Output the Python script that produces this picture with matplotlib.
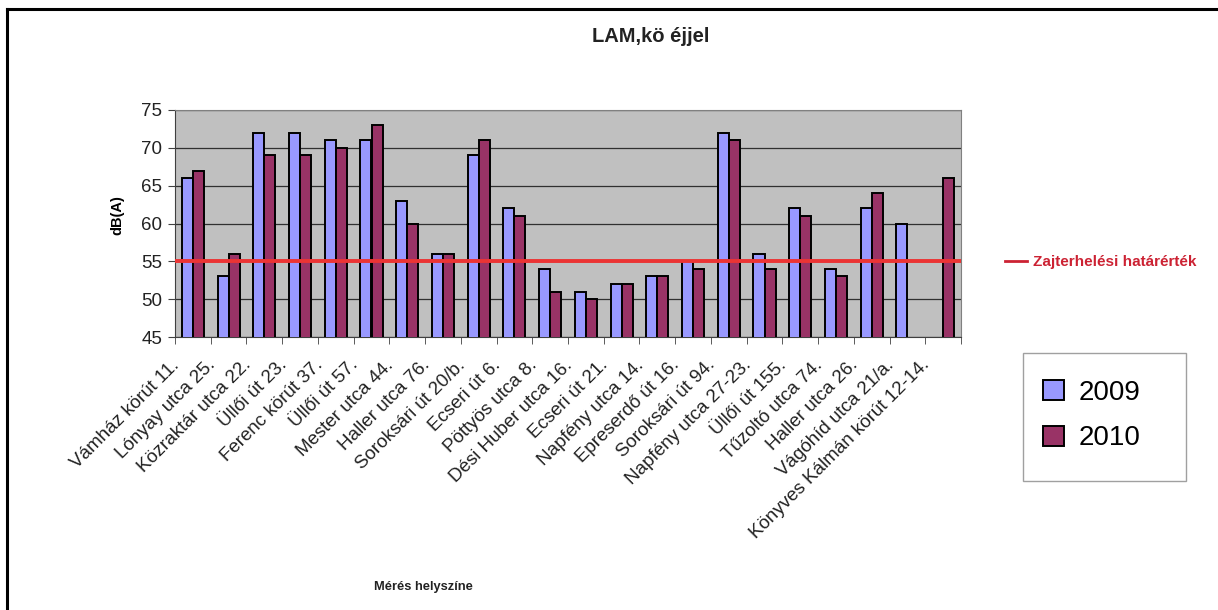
import matplotlib.pyplot as plt
import matplotlib.transforms as mtransforms
import numpy as np
from matplotlib.lines import Line2D
from matplotlib.patches import Patch, Rectangle

plt.rcParams['font.family'] = ['Liberation Sans', 'DejaVu Sans']

# Mérési helyszínek és értékek (dB(A))
locations = [
    "Vámház körút 11.", "Lónyay utca 25.", "Közraktár utca 22.", "Üllői út 23.",
    "Ferenc körút 37.", "Üllői út 57.", "Mester utca 44.", "Haller utca 76.",
    "Soroksári út 20/b.", "Ecseri út 6.", "Pöttyös utca 8.", "Dési Huber utca 16.",
    "Ecseri út 21.", "Napfény utca 14.", "Epreserdő út 16.", "Soroksári út 94.",
    "Napfény utca 27-23.", "Üllői út 155.", "Tűzoltó utca 74.", "Haller utca 26.",
    "Vágóhíd utca 21/a.", "Könyves Kálmán körút 12-14.",
]
values_2009 = [66, 53, 72, 72, 71, 71, 63, 56, 69, 62, 54, 51,
               52, 53, 55, 72, 56, 62, 54, 62, 60, np.nan]
values_2010 = [67, 56, 69, 69, 70, 73, 60, 56, 71, 61, 51, 50,
               52, 53, 54, 71, 54, 61, 53, 64, np.nan, 66]
limit = 55
series_labels = ["2009", "2010"]

W, H = 1218, 610
fig = plt.figure(figsize=(W / 100, H / 100), dpi=100)
ax = fig.add_axes([175 / W, 1 - 337 / H, 786 / W, 227 / H])

x = np.arange(len(locations))
bw = 0.31
ax.bar(x - bw / 2, values_2009, bw, color="#9999FF", edgecolor="black", linewidth=1.4, zorder=3)
ax.bar(x + bw / 2, values_2010, bw, color="#993366", edgecolor="black", linewidth=1.4, zorder=3)
ax.axhline(limit, color="#EC3434", linewidth=2.8, zorder=4)

ax.set_facecolor("#C0C0C0")
ax.set_xlim(-0.5, len(locations) - 0.5)
ax.set_ylim(45, 75)
ax.set_yticks(range(45, 76, 5))
ax.grid(axis="y", color="#303030", linewidth=0.9, zorder=1)
ax.tick_params(axis="y", labelsize=13.5, length=5, color="#404040", labelcolor="#222222", pad=4)

# category boundaries as tick marks, labels at category centres
ax.set_xticks(x)
ax.set_xticklabels(locations, rotation=45, ha="right", rotation_mode="anchor",
                   fontsize=13.5, color="#222222")
ax.tick_params(axis="x", which="major", length=0, pad=14)
shift = mtransforms.ScaledTranslation(-22 / 100, 0, fig.dpi_scale_trans)
for lab in ax.get_xticklabels():
    lab.set_transform(lab.get_transform() + shift)
ax.set_xticks(np.arange(-0.5, len(locations), 1), minor=True)
ax.tick_params(axis="x", which="minor", length=5, color="#404040")

for side in ["top", "right"]:
    ax.spines[side].set_color("#808080")
for side in ["left", "bottom"]:
    ax.spines[side].set_color("#404040")

ax.set_ylabel("dB(A)", fontsize=10.5, fontweight="bold")
ax.yaxis.set_label_coords(-0.065, 0.537)

fig.text(651 / W, 1 - 37 / H, "LAM,kö éjjel", fontsize=14.5, fontweight="bold",
         ha="center", va="center", color="#222222")
fig.text(423 / W, 1 - 587 / H, "Mérés helyszíne", fontsize=9.3, fontweight="bold",
         ha="center", va="center", color="#222222")

# határérték jelmagyarázat
fig.legend([Line2D([0], [0], color="#CC2233", linewidth=2)], ["Zajterhelési határérték"],
           loc="center left", bbox_to_anchor=(999 / W, 1 - 262 / H), frameon=False,
           handlelength=1.45, handletextpad=0.35, labelcolor="#CC2233",
           prop={"size": 11, "weight": "bold"}, borderaxespad=0)

# 2009 / 2010 jelmagyarázat, külön kerettel
fig.add_artist(Rectangle((1023 / W, 1 - 481 / H), 163 / W, 128 / H, transform=fig.transFigure,
                         facecolor="white", edgecolor="#A0A0A0", linewidth=1.0, zorder=1))
handles = [Patch(facecolor="#9999FF", edgecolor="black", linewidth=1.4),
           Patch(facecolor="#993366", edgecolor="black", linewidth=1.4)]
fig.legend(handles, series_labels, loc="upper left",
           bbox_to_anchor=(1043 / W, 1 - 380 / H), frameon=False,
           fontsize=20, handlelength=0.75, handleheight=0.75, handletextpad=0.55,
           labelspacing=0.7, borderpad=0, borderaxespad=0)

# keret a kép bal és felső szélén
fig.add_artist(Line2D([7 / W, 7 / W], [0, 1 - 9 / H], color="black", linewidth=2.2))
fig.add_artist(Line2D([7 / W, 1], [1 - 9 / H, 1 - 9 / H], color="black", linewidth=2.2))

fig.savefig("out.png", dpi=100)
